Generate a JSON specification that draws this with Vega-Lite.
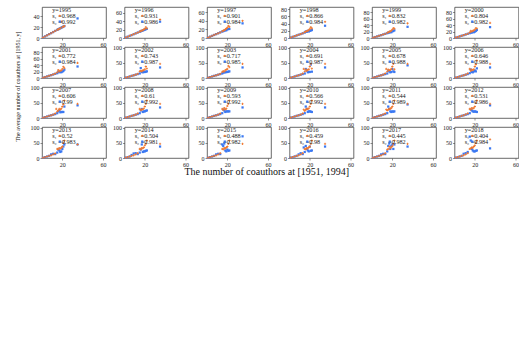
{
"$schema":"https://vega.github.io/schema/vega-lite/v6.json",
"padding":{"left":14,"top":5,"right":2,"bottom":2},
"background":"white",
"datasets":{"d":[
{"p":1995,"k":1,"t":"y=1995"},{"p":1995,"k":2,"s":1,"t":"s₁   =0.968"},{"p":1995,"k":3,"s":2,"t":"s₂   =0.992"},
{"p":1996,"k":1,"t":"y=1996"},{"p":1996,"k":2,"s":1,"t":"s₁   =0.931"},{"p":1996,"k":3,"s":2,"t":"s₂   =0.986"},
{"p":1997,"k":1,"t":"y=1997"},{"p":1997,"k":2,"s":1,"t":"s₁   =0.901"},{"p":1997,"k":3,"s":2,"t":"s₂   =0.984"},
{"p":1998,"k":1,"t":"y=1998"},{"p":1998,"k":2,"s":1,"t":"s₁   =0.866"},{"p":1998,"k":3,"s":2,"t":"s₂   =0.984"},
{"p":1999,"k":1,"t":"y=1999"},{"p":1999,"k":2,"s":1,"t":"s₁   =0.832"},{"p":1999,"k":3,"s":2,"t":"s₂   =0.982"},
{"p":2000,"k":1,"t":"y=2000"},{"p":2000,"k":2,"s":1,"t":"s₁   =0.804"},{"p":2000,"k":3,"s":2,"t":"s₂   =0.982"},
{"p":2001,"k":1,"t":"y=2001"},{"p":2001,"k":2,"s":1,"t":"s₁   =0.772"},{"p":2001,"k":3,"s":2,"t":"s₂   =0.984"},
{"p":2002,"k":1,"t":"y=2002"},{"p":2002,"k":2,"s":1,"t":"s₁   =0.743"},{"p":2002,"k":3,"s":2,"t":"s₂   =0.987"},
{"p":2003,"k":1,"t":"y=2003"},{"p":2003,"k":2,"s":1,"t":"s₁   =0.717"},{"p":2003,"k":3,"s":2,"t":"s₂   =0.985"},
{"p":2004,"k":1,"t":"y=2004"},{"p":2004,"k":2,"s":1,"t":"s₁   =0.691"},{"p":2004,"k":3,"s":2,"t":"s₂   =0.987"},
{"p":2005,"k":1,"t":"y=2005"},{"p":2005,"k":2,"s":1,"t":"s₁   =0.678"},{"p":2005,"k":3,"s":2,"t":"s₂   =0.988"},
{"p":2006,"k":1,"t":"y=2006"},{"p":2006,"k":2,"s":1,"t":"s₁   =0.646"},{"p":2006,"k":3,"s":2,"t":"s₂   =0.988"},
{"p":2007,"k":1,"t":"y=2007"},{"p":2007,"k":2,"s":1,"t":"s₁   =0.606"},{"p":2007,"k":3,"s":2,"t":"s₂   =0.99"},
{"p":2008,"k":1,"t":"y=2008"},{"p":2008,"k":2,"s":1,"t":"s₁   =0.61"},{"p":2008,"k":3,"s":2,"t":"s₂   =0.992"},
{"p":2009,"k":1,"t":"y=2009"},{"p":2009,"k":2,"s":1,"t":"s₁   =0.593"},{"p":2009,"k":3,"s":2,"t":"s₂   =0.992"},
{"p":2010,"k":1,"t":"y=2010"},{"p":2010,"k":2,"s":1,"t":"s₁   =0.566"},{"p":2010,"k":3,"s":2,"t":"s₂   =0.992"},
{"p":2011,"k":1,"t":"y=2011"},{"p":2011,"k":2,"s":1,"t":"s₁   =0.544"},{"p":2011,"k":3,"s":2,"t":"s₂   =0.989"},
{"p":2012,"k":1,"t":"y=2012"},{"p":2012,"k":2,"s":1,"t":"s₁   =0.531"},{"p":2012,"k":3,"s":2,"t":"s₂   =0.986"},
{"p":2013,"k":1,"t":"y=2013"},{"p":2013,"k":2,"s":1,"t":"s₁   =0.52"},{"p":2013,"k":3,"s":2,"t":"s₂   =0.983"},
{"p":2014,"k":1,"t":"y=2014"},{"p":2014,"k":2,"s":1,"t":"s₁   =0.504"},{"p":2014,"k":3,"s":2,"t":"s₂   =0.981"},
{"p":2015,"k":1,"t":"y=2015"},{"p":2015,"k":2,"s":1,"t":"s₁   =0.488"},{"p":2015,"k":3,"s":2,"t":"s₂   =0.982"},
{"p":2016,"k":1,"t":"y=2016"},{"p":2016,"k":2,"s":1,"t":"s₁   =0.459"},{"p":2016,"k":3,"s":2,"t":"s₂   =0.98"},
{"p":2017,"k":1,"t":"y=2017"},{"p":2017,"k":2,"s":1,"t":"s₁   =0.445"},{"p":2017,"k":3,"s":2,"t":"s₂   =0.982"},
{"p":2018,"k":1,"t":"y=2018"},{"p":2018,"k":2,"s":1,"t":"s₁   =0.404"},{"p":2018,"k":3,"s":2,"t":"s₂   =0.984"},

{"p":1995,"s":1,"x":1,"y":1},{"p":1995,"s":1,"x":3,"y":3},{"p":1995,"s":1,"x":5,"y":5},{"p":1995,"s":1,"x":7,"y":7},{"p":1995,"s":1,"x":9,"y":9},{"p":1995,"s":1,"x":11,"y":11},{"p":1995,"s":1,"x":13,"y":13},{"p":1995,"s":1,"x":15,"y":15},{"p":1995,"s":1,"x":16,"y":16},{"p":1995,"s":1,"x":17,"y":17},{"p":1995,"s":1,"x":18,"y":18},{"p":1995,"s":1,"x":19,"y":30},{"p":1995,"s":1,"x":20,"y":20},{"p":1995,"s":1,"x":21,"y":21},{"p":1995,"s":1,"x":22,"y":22},
{"p":1995,"s":2,"x":1,"y":1},{"p":1995,"s":2,"x":3,"y":3},{"p":1995,"s":2,"x":5,"y":5},{"p":1995,"s":2,"x":7,"y":7},{"p":1995,"s":2,"x":9,"y":9},{"p":1995,"s":2,"x":11,"y":11},{"p":1995,"s":2,"x":13,"y":13},{"p":1995,"s":2,"x":15,"y":15},{"p":1995,"s":2,"x":16,"y":16},{"p":1995,"s":2,"x":17,"y":17},{"p":1995,"s":2,"x":18,"y":18},{"p":1995,"s":2,"x":19,"y":19},{"p":1995,"s":2,"x":20,"y":20},{"p":1995,"s":2,"x":21,"y":21},{"p":1995,"s":2,"x":22,"y":22},{"p":1995,"s":2,"x":35,"y":36},

{"p":1996,"s":1,"x":1,"y":1},{"p":1996,"s":1,"x":3,"y":3},{"p":1996,"s":1,"x":5,"y":5},{"p":1996,"s":1,"x":7,"y":7},{"p":1996,"s":1,"x":9,"y":9},{"p":1996,"s":1,"x":11,"y":11},{"p":1996,"s":1,"x":13,"y":13},{"p":1996,"s":1,"x":15,"y":15},{"p":1996,"s":1,"x":16,"y":17},{"p":1996,"s":1,"x":17,"y":17},{"p":1996,"s":1,"x":18,"y":19},{"p":1996,"s":1,"x":19,"y":20},{"p":1996,"s":1,"x":20,"y":22},{"p":1996,"s":1,"x":21,"y":26},{"p":1996,"s":1,"x":22,"y":23},{"p":1996,"s":1,"x":35,"y":44},
{"p":1996,"s":2,"x":1,"y":1},{"p":1996,"s":2,"x":3,"y":3},{"p":1996,"s":2,"x":5,"y":5},{"p":1996,"s":2,"x":7,"y":7},{"p":1996,"s":2,"x":9,"y":9},{"p":1996,"s":2,"x":11,"y":11},{"p":1996,"s":2,"x":13,"y":13},{"p":1996,"s":2,"x":15,"y":15},{"p":1996,"s":2,"x":16,"y":16},{"p":1996,"s":2,"x":17,"y":17},{"p":1996,"s":2,"x":18,"y":18},{"p":1996,"s":2,"x":19,"y":19},{"p":1996,"s":2,"x":20,"y":20},{"p":1996,"s":2,"x":21,"y":21},{"p":1996,"s":2,"x":22,"y":22},{"p":1996,"s":2,"x":35,"y":39},

{"p":1997,"s":1,"x":1,"y":1},{"p":1997,"s":1,"x":3,"y":3},{"p":1997,"s":1,"x":5,"y":5},{"p":1997,"s":1,"x":7,"y":7},{"p":1997,"s":1,"x":9,"y":9},{"p":1997,"s":1,"x":11,"y":11},{"p":1997,"s":1,"x":13,"y":13},{"p":1997,"s":1,"x":15,"y":16},{"p":1997,"s":1,"x":16,"y":17},{"p":1997,"s":1,"x":17,"y":18},{"p":1997,"s":1,"x":18,"y":20},{"p":1997,"s":1,"x":19,"y":22},{"p":1997,"s":1,"x":20,"y":24},{"p":1997,"s":1,"x":21,"y":28},{"p":1997,"s":1,"x":22,"y":26},{"p":1997,"s":1,"x":35,"y":40},
{"p":1997,"s":2,"x":1,"y":1},{"p":1997,"s":2,"x":3,"y":3},{"p":1997,"s":2,"x":5,"y":5},{"p":1997,"s":2,"x":7,"y":7},{"p":1997,"s":2,"x":9,"y":9},{"p":1997,"s":2,"x":11,"y":11},{"p":1997,"s":2,"x":13,"y":13},{"p":1997,"s":2,"x":15,"y":15},{"p":1997,"s":2,"x":16,"y":16},{"p":1997,"s":2,"x":17,"y":17},{"p":1997,"s":2,"x":18,"y":18},{"p":1997,"s":2,"x":19,"y":18},{"p":1997,"s":2,"x":20,"y":20},{"p":1997,"s":2,"x":21,"y":21},{"p":1997,"s":2,"x":22,"y":21},{"p":1997,"s":2,"x":35,"y":34},

{"p":1998,"s":1,"x":1,"y":1},{"p":1998,"s":1,"x":3,"y":3},{"p":1998,"s":1,"x":5,"y":5},{"p":1998,"s":1,"x":7,"y":7},{"p":1998,"s":1,"x":9,"y":9},{"p":1998,"s":1,"x":11,"y":11},{"p":1998,"s":1,"x":13,"y":13},{"p":1998,"s":1,"x":15,"y":16},{"p":1998,"s":1,"x":16,"y":18},{"p":1998,"s":1,"x":17,"y":19},{"p":1998,"s":1,"x":18,"y":20},{"p":1998,"s":1,"x":19,"y":22},{"p":1998,"s":1,"x":20,"y":25},{"p":1998,"s":1,"x":21,"y":30},{"p":1998,"s":1,"x":22,"y":27},{"p":1998,"s":1,"x":35,"y":45},
{"p":1998,"s":2,"x":1,"y":1},{"p":1998,"s":2,"x":3,"y":3},{"p":1998,"s":2,"x":5,"y":5},{"p":1998,"s":2,"x":7,"y":7},{"p":1998,"s":2,"x":9,"y":9},{"p":1998,"s":2,"x":11,"y":11},{"p":1998,"s":2,"x":13,"y":13},{"p":1998,"s":2,"x":15,"y":15},{"p":1998,"s":2,"x":16,"y":18},{"p":1998,"s":2,"x":17,"y":17},{"p":1998,"s":2,"x":18,"y":20},{"p":1998,"s":2,"x":19,"y":18},{"p":1998,"s":2,"x":20,"y":20},{"p":1998,"s":2,"x":21,"y":21},{"p":1998,"s":2,"x":22,"y":22},{"p":1998,"s":2,"x":35,"y":34},

{"p":1999,"s":1,"x":1,"y":1},{"p":1999,"s":1,"x":3,"y":3},{"p":1999,"s":1,"x":5,"y":5},{"p":1999,"s":1,"x":7,"y":7},{"p":1999,"s":1,"x":9,"y":9},{"p":1999,"s":1,"x":11,"y":11},{"p":1999,"s":1,"x":13,"y":13},{"p":1999,"s":1,"x":15,"y":16},{"p":1999,"s":1,"x":16,"y":18},{"p":1999,"s":1,"x":17,"y":20},{"p":1999,"s":1,"x":18,"y":21},{"p":1999,"s":1,"x":19,"y":23},{"p":1999,"s":1,"x":20,"y":27},{"p":1999,"s":1,"x":21,"y":31},{"p":1999,"s":1,"x":22,"y":29},{"p":1999,"s":1,"x":35,"y":46},
{"p":1999,"s":2,"x":1,"y":1},{"p":1999,"s":2,"x":3,"y":3},{"p":1999,"s":2,"x":5,"y":5},{"p":1999,"s":2,"x":7,"y":7},{"p":1999,"s":2,"x":9,"y":9},{"p":1999,"s":2,"x":11,"y":11},{"p":1999,"s":2,"x":13,"y":13},{"p":1999,"s":2,"x":15,"y":15},{"p":1999,"s":2,"x":16,"y":17},{"p":1999,"s":2,"x":17,"y":17},{"p":1999,"s":2,"x":18,"y":19},{"p":1999,"s":2,"x":19,"y":18},{"p":1999,"s":2,"x":20,"y":21},{"p":1999,"s":2,"x":21,"y":22},{"p":1999,"s":2,"x":22,"y":24},{"p":1999,"s":2,"x":35,"y":35},

{"p":2000,"s":1,"x":1,"y":1},{"p":2000,"s":1,"x":3,"y":3},{"p":2000,"s":1,"x":5,"y":5},{"p":2000,"s":1,"x":7,"y":7},{"p":2000,"s":1,"x":9,"y":9},{"p":2000,"s":1,"x":11,"y":11},{"p":2000,"s":1,"x":13,"y":13},{"p":2000,"s":1,"x":15,"y":17},{"p":2000,"s":1,"x":16,"y":22},{"p":2000,"s":1,"x":17,"y":20},{"p":2000,"s":1,"x":18,"y":22},{"p":2000,"s":1,"x":19,"y":24},{"p":2000,"s":1,"x":20,"y":26},{"p":2000,"s":1,"x":21,"y":31},{"p":2000,"s":1,"x":22,"y":30},{"p":2000,"s":1,"x":35,"y":47},
{"p":2000,"s":2,"x":1,"y":1},{"p":2000,"s":2,"x":3,"y":3},{"p":2000,"s":2,"x":5,"y":5},{"p":2000,"s":2,"x":7,"y":7},{"p":2000,"s":2,"x":9,"y":9},{"p":2000,"s":2,"x":11,"y":11},{"p":2000,"s":2,"x":13,"y":13},{"p":2000,"s":2,"x":15,"y":15},{"p":2000,"s":2,"x":16,"y":17},{"p":2000,"s":2,"x":17,"y":17},{"p":2000,"s":2,"x":18,"y":19},{"p":2000,"s":2,"x":19,"y":18},{"p":2000,"s":2,"x":20,"y":20},{"p":2000,"s":2,"x":21,"y":22},{"p":2000,"s":2,"x":22,"y":25},{"p":2000,"s":2,"x":35,"y":34},

{"p":2001,"s":1,"x":1,"y":1},{"p":2001,"s":1,"x":3,"y":3},{"p":2001,"s":1,"x":5,"y":5},{"p":2001,"s":1,"x":7,"y":7},{"p":2001,"s":1,"x":9,"y":9},{"p":2001,"s":1,"x":11,"y":11},{"p":2001,"s":1,"x":13,"y":14},{"p":2001,"s":1,"x":15,"y":18},{"p":2001,"s":1,"x":16,"y":25},{"p":2001,"s":1,"x":17,"y":21},{"p":2001,"s":1,"x":18,"y":23},{"p":2001,"s":1,"x":19,"y":24},{"p":2001,"s":1,"x":20,"y":28},{"p":2001,"s":1,"x":21,"y":35},{"p":2001,"s":1,"x":22,"y":31},{"p":2001,"s":1,"x":35,"y":47},
{"p":2001,"s":2,"x":1,"y":1},{"p":2001,"s":2,"x":3,"y":3},{"p":2001,"s":2,"x":5,"y":5},{"p":2001,"s":2,"x":7,"y":7},{"p":2001,"s":2,"x":9,"y":9},{"p":2001,"s":2,"x":11,"y":11},{"p":2001,"s":2,"x":13,"y":13},{"p":2001,"s":2,"x":15,"y":15},{"p":2001,"s":2,"x":16,"y":20},{"p":2001,"s":2,"x":17,"y":18},{"p":2001,"s":2,"x":18,"y":19},{"p":2001,"s":2,"x":19,"y":18},{"p":2001,"s":2,"x":20,"y":20},{"p":2001,"s":2,"x":21,"y":22},{"p":2001,"s":2,"x":22,"y":26},{"p":2001,"s":2,"x":35,"y":36},

{"p":2002,"s":1,"x":1,"y":1},{"p":2002,"s":1,"x":3,"y":3},{"p":2002,"s":1,"x":5,"y":5},{"p":2002,"s":1,"x":7,"y":7},{"p":2002,"s":1,"x":9,"y":9},{"p":2002,"s":1,"x":11,"y":11},{"p":2002,"s":1,"x":13,"y":14},{"p":2002,"s":1,"x":15,"y":22},{"p":2002,"s":1,"x":16,"y":24},{"p":2002,"s":1,"x":17,"y":22},{"p":2002,"s":1,"x":18,"y":25},{"p":2002,"s":1,"x":19,"y":26},{"p":2002,"s":1,"x":20,"y":29},{"p":2002,"s":1,"x":21,"y":38},{"p":2002,"s":1,"x":22,"y":31},{"p":2002,"s":1,"x":35,"y":47},
{"p":2002,"s":2,"x":1,"y":1},{"p":2002,"s":2,"x":3,"y":3},{"p":2002,"s":2,"x":5,"y":5},{"p":2002,"s":2,"x":7,"y":7},{"p":2002,"s":2,"x":9,"y":9},{"p":2002,"s":2,"x":11,"y":11},{"p":2002,"s":2,"x":13,"y":13},{"p":2002,"s":2,"x":15,"y":15},{"p":2002,"s":2,"x":16,"y":33},{"p":2002,"s":2,"x":17,"y":20},{"p":2002,"s":2,"x":18,"y":19},{"p":2002,"s":2,"x":19,"y":20},{"p":2002,"s":2,"x":20,"y":20},{"p":2002,"s":2,"x":21,"y":21},{"p":2002,"s":2,"x":22,"y":22},{"p":2002,"s":2,"x":35,"y":35},

{"p":2003,"s":1,"x":1,"y":1},{"p":2003,"s":1,"x":3,"y":3},{"p":2003,"s":1,"x":5,"y":5},{"p":2003,"s":1,"x":7,"y":7},{"p":2003,"s":1,"x":9,"y":9},{"p":2003,"s":1,"x":11,"y":11},{"p":2003,"s":1,"x":13,"y":14},{"p":2003,"s":1,"x":15,"y":20},{"p":2003,"s":1,"x":16,"y":23},{"p":2003,"s":1,"x":17,"y":22},{"p":2003,"s":1,"x":18,"y":26},{"p":2003,"s":1,"x":19,"y":28},{"p":2003,"s":1,"x":20,"y":30},{"p":2003,"s":1,"x":21,"y":40},{"p":2003,"s":1,"x":22,"y":36},{"p":2003,"s":1,"x":35,"y":47},
{"p":2003,"s":2,"x":1,"y":1},{"p":2003,"s":2,"x":3,"y":3},{"p":2003,"s":2,"x":5,"y":5},{"p":2003,"s":2,"x":7,"y":7},{"p":2003,"s":2,"x":9,"y":9},{"p":2003,"s":2,"x":11,"y":11},{"p":2003,"s":2,"x":13,"y":13},{"p":2003,"s":2,"x":15,"y":15},{"p":2003,"s":2,"x":16,"y":18},{"p":2003,"s":2,"x":17,"y":19},{"p":2003,"s":2,"x":18,"y":19},{"p":2003,"s":2,"x":19,"y":20},{"p":2003,"s":2,"x":20,"y":20},{"p":2003,"s":2,"x":21,"y":21},{"p":2003,"s":2,"x":22,"y":22},{"p":2003,"s":2,"x":35,"y":35},

{"p":2004,"s":1,"x":1,"y":1},{"p":2004,"s":1,"x":3,"y":3},{"p":2004,"s":1,"x":5,"y":5},{"p":2004,"s":1,"x":7,"y":7},{"p":2004,"s":1,"x":9,"y":9},{"p":2004,"s":1,"x":11,"y":11},{"p":2004,"s":1,"x":13,"y":15},{"p":2004,"s":1,"x":14,"y":30},{"p":2004,"s":1,"x":15,"y":22},{"p":2004,"s":1,"x":16,"y":28},{"p":2004,"s":1,"x":17,"y":24},{"p":2004,"s":1,"x":18,"y":27},{"p":2004,"s":1,"x":19,"y":29},{"p":2004,"s":1,"x":20,"y":38},{"p":2004,"s":1,"x":21,"y":47},{"p":2004,"s":1,"x":22,"y":31},{"p":2004,"s":1,"x":35,"y":47},
{"p":2004,"s":2,"x":1,"y":1},{"p":2004,"s":2,"x":3,"y":3},{"p":2004,"s":2,"x":5,"y":5},{"p":2004,"s":2,"x":7,"y":7},{"p":2004,"s":2,"x":9,"y":9},{"p":2004,"s":2,"x":11,"y":11},{"p":2004,"s":2,"x":13,"y":13},{"p":2004,"s":2,"x":15,"y":15},{"p":2004,"s":2,"x":16,"y":30},{"p":2004,"s":2,"x":17,"y":25},{"p":2004,"s":2,"x":18,"y":19},{"p":2004,"s":2,"x":19,"y":20},{"p":2004,"s":2,"x":20,"y":20},{"p":2004,"s":2,"x":21,"y":45},{"p":2004,"s":2,"x":22,"y":21},{"p":2004,"s":2,"x":35,"y":35},

{"p":2005,"s":1,"x":1,"y":1},{"p":2005,"s":1,"x":3,"y":3},{"p":2005,"s":1,"x":5,"y":5},{"p":2005,"s":1,"x":7,"y":7},{"p":2005,"s":1,"x":9,"y":9},{"p":2005,"s":1,"x":11,"y":11},{"p":2005,"s":1,"x":13,"y":15},{"p":2005,"s":1,"x":14,"y":30},{"p":2005,"s":1,"x":15,"y":22},{"p":2005,"s":1,"x":16,"y":28},{"p":2005,"s":1,"x":17,"y":25},{"p":2005,"s":1,"x":18,"y":27},{"p":2005,"s":1,"x":19,"y":30},{"p":2005,"s":1,"x":20,"y":38},{"p":2005,"s":1,"x":21,"y":47},{"p":2005,"s":1,"x":22,"y":29},{"p":2005,"s":1,"x":35,"y":47},
{"p":2005,"s":2,"x":1,"y":1},{"p":2005,"s":2,"x":3,"y":3},{"p":2005,"s":2,"x":5,"y":5},{"p":2005,"s":2,"x":7,"y":7},{"p":2005,"s":2,"x":9,"y":9},{"p":2005,"s":2,"x":11,"y":11},{"p":2005,"s":2,"x":13,"y":13},{"p":2005,"s":2,"x":15,"y":15},{"p":2005,"s":2,"x":16,"y":25},{"p":2005,"s":2,"x":17,"y":22},{"p":2005,"s":2,"x":18,"y":19},{"p":2005,"s":2,"x":19,"y":20},{"p":2005,"s":2,"x":20,"y":30},{"p":2005,"s":2,"x":21,"y":22},{"p":2005,"s":2,"x":22,"y":20},{"p":2005,"s":2,"x":35,"y":42},

{"p":2006,"s":1,"x":1,"y":1},{"p":2006,"s":1,"x":3,"y":3},{"p":2006,"s":1,"x":5,"y":5},{"p":2006,"s":1,"x":7,"y":7},{"p":2006,"s":1,"x":9,"y":9},{"p":2006,"s":1,"x":11,"y":11},{"p":2006,"s":1,"x":13,"y":15},{"p":2006,"s":1,"x":15,"y":30},{"p":2006,"s":1,"x":16,"y":24},{"p":2006,"s":1,"x":17,"y":28},{"p":2006,"s":1,"x":18,"y":26},{"p":2006,"s":1,"x":19,"y":29},{"p":2006,"s":1,"x":20,"y":38},{"p":2006,"s":1,"x":21,"y":45},{"p":2006,"s":1,"x":22,"y":58},{"p":2006,"s":1,"x":35,"y":47},
{"p":2006,"s":2,"x":1,"y":1},{"p":2006,"s":2,"x":3,"y":3},{"p":2006,"s":2,"x":5,"y":5},{"p":2006,"s":2,"x":7,"y":7},{"p":2006,"s":2,"x":9,"y":9},{"p":2006,"s":2,"x":11,"y":11},{"p":2006,"s":2,"x":13,"y":13},{"p":2006,"s":2,"x":15,"y":16},{"p":2006,"s":2,"x":16,"y":28},{"p":2006,"s":2,"x":17,"y":20},{"p":2006,"s":2,"x":18,"y":19},{"p":2006,"s":2,"x":19,"y":22},{"p":2006,"s":2,"x":20,"y":25},{"p":2006,"s":2,"x":21,"y":22},{"p":2006,"s":2,"x":22,"y":32},{"p":2006,"s":2,"x":35,"y":35},

{"p":2007,"s":1,"x":1,"y":1},{"p":2007,"s":1,"x":3,"y":3},{"p":2007,"s":1,"x":5,"y":5},{"p":2007,"s":1,"x":7,"y":7},{"p":2007,"s":1,"x":9,"y":9},{"p":2007,"s":1,"x":11,"y":11},{"p":2007,"s":1,"x":13,"y":15},{"p":2007,"s":1,"x":14,"y":30},{"p":2007,"s":1,"x":15,"y":22},{"p":2007,"s":1,"x":16,"y":25},{"p":2007,"s":1,"x":17,"y":30},{"p":2007,"s":1,"x":18,"y":28},{"p":2007,"s":1,"x":19,"y":31},{"p":2007,"s":1,"x":20,"y":38},{"p":2007,"s":1,"x":21,"y":45},{"p":2007,"s":1,"x":22,"y":58},{"p":2007,"s":1,"x":35,"y":47},
{"p":2007,"s":2,"x":1,"y":1},{"p":2007,"s":2,"x":3,"y":3},{"p":2007,"s":2,"x":5,"y":5},{"p":2007,"s":2,"x":7,"y":7},{"p":2007,"s":2,"x":9,"y":9},{"p":2007,"s":2,"x":11,"y":11},{"p":2007,"s":2,"x":13,"y":13},{"p":2007,"s":2,"x":15,"y":16},{"p":2007,"s":2,"x":16,"y":22},{"p":2007,"s":2,"x":17,"y":25},{"p":2007,"s":2,"x":18,"y":19},{"p":2007,"s":2,"x":19,"y":20},{"p":2007,"s":2,"x":20,"y":20},{"p":2007,"s":2,"x":21,"y":20},{"p":2007,"s":2,"x":22,"y":38},{"p":2007,"s":2,"x":35,"y":42},

{"p":2008,"s":1,"x":1,"y":1},{"p":2008,"s":1,"x":3,"y":3},{"p":2008,"s":1,"x":5,"y":5},{"p":2008,"s":1,"x":7,"y":7},{"p":2008,"s":1,"x":9,"y":9},{"p":2008,"s":1,"x":11,"y":11},{"p":2008,"s":1,"x":13,"y":15},{"p":2008,"s":1,"x":15,"y":30},{"p":2008,"s":1,"x":16,"y":26},{"p":2008,"s":1,"x":17,"y":28},{"p":2008,"s":1,"x":18,"y":29},{"p":2008,"s":1,"x":19,"y":31},{"p":2008,"s":1,"x":20,"y":38},{"p":2008,"s":1,"x":21,"y":47},{"p":2008,"s":1,"x":22,"y":58},{"p":2008,"s":1,"x":35,"y":47},
{"p":2008,"s":2,"x":1,"y":1},{"p":2008,"s":2,"x":3,"y":3},{"p":2008,"s":2,"x":5,"y":5},{"p":2008,"s":2,"x":7,"y":7},{"p":2008,"s":2,"x":9,"y":9},{"p":2008,"s":2,"x":11,"y":11},{"p":2008,"s":2,"x":13,"y":13},{"p":2008,"s":2,"x":15,"y":16},{"p":2008,"s":2,"x":16,"y":25},{"p":2008,"s":2,"x":17,"y":30},{"p":2008,"s":2,"x":18,"y":20},{"p":2008,"s":2,"x":19,"y":22},{"p":2008,"s":2,"x":20,"y":22},{"p":2008,"s":2,"x":21,"y":24},{"p":2008,"s":2,"x":22,"y":25},{"p":2008,"s":2,"x":35,"y":35},

{"p":2009,"s":1,"x":1,"y":1},{"p":2009,"s":1,"x":3,"y":3},{"p":2009,"s":1,"x":5,"y":5},{"p":2009,"s":1,"x":7,"y":7},{"p":2009,"s":1,"x":9,"y":9},{"p":2009,"s":1,"x":11,"y":11},{"p":2009,"s":1,"x":13,"y":15},{"p":2009,"s":1,"x":15,"y":30},{"p":2009,"s":1,"x":16,"y":27},{"p":2009,"s":1,"x":17,"y":33},{"p":2009,"s":1,"x":18,"y":29},{"p":2009,"s":1,"x":19,"y":31},{"p":2009,"s":1,"x":20,"y":40},{"p":2009,"s":1,"x":21,"y":47},{"p":2009,"s":1,"x":22,"y":58},{"p":2009,"s":1,"x":35,"y":47},
{"p":2009,"s":2,"x":1,"y":1},{"p":2009,"s":2,"x":3,"y":3},{"p":2009,"s":2,"x":5,"y":5},{"p":2009,"s":2,"x":7,"y":7},{"p":2009,"s":2,"x":9,"y":9},{"p":2009,"s":2,"x":11,"y":11},{"p":2009,"s":2,"x":13,"y":13},{"p":2009,"s":2,"x":15,"y":16},{"p":2009,"s":2,"x":16,"y":28},{"p":2009,"s":2,"x":17,"y":25},{"p":2009,"s":2,"x":18,"y":20},{"p":2009,"s":2,"x":19,"y":22},{"p":2009,"s":2,"x":20,"y":22},{"p":2009,"s":2,"x":21,"y":22},{"p":2009,"s":2,"x":22,"y":22},{"p":2009,"s":2,"x":35,"y":35},

{"p":2010,"s":1,"x":1,"y":1},{"p":2010,"s":1,"x":3,"y":3},{"p":2010,"s":1,"x":5,"y":5},{"p":2010,"s":1,"x":7,"y":7},{"p":2010,"s":1,"x":9,"y":9},{"p":2010,"s":1,"x":11,"y":11},{"p":2010,"s":1,"x":13,"y":15},{"p":2010,"s":1,"x":14,"y":28},{"p":2010,"s":1,"x":15,"y":24},{"p":2010,"s":1,"x":16,"y":27},{"p":2010,"s":1,"x":17,"y":30},{"p":2010,"s":1,"x":18,"y":30},{"p":2010,"s":1,"x":19,"y":32},{"p":2010,"s":1,"x":20,"y":38},{"p":2010,"s":1,"x":21,"y":47},{"p":2010,"s":1,"x":22,"y":58},{"p":2010,"s":1,"x":35,"y":47},
{"p":2010,"s":2,"x":1,"y":1},{"p":2010,"s":2,"x":3,"y":3},{"p":2010,"s":2,"x":5,"y":5},{"p":2010,"s":2,"x":7,"y":7},{"p":2010,"s":2,"x":9,"y":9},{"p":2010,"s":2,"x":11,"y":11},{"p":2010,"s":2,"x":13,"y":13},{"p":2010,"s":2,"x":15,"y":16},{"p":2010,"s":2,"x":16,"y":38},{"p":2010,"s":2,"x":17,"y":30},{"p":2010,"s":2,"x":18,"y":20},{"p":2010,"s":2,"x":19,"y":22},{"p":2010,"s":2,"x":20,"y":22},{"p":2010,"s":2,"x":21,"y":21},{"p":2010,"s":2,"x":22,"y":20},{"p":2010,"s":2,"x":35,"y":35},

{"p":2011,"s":1,"x":1,"y":1},{"p":2011,"s":1,"x":3,"y":3},{"p":2011,"s":1,"x":5,"y":5},{"p":2011,"s":1,"x":7,"y":7},{"p":2011,"s":1,"x":9,"y":9},{"p":2011,"s":1,"x":11,"y":12},{"p":2011,"s":1,"x":13,"y":15},{"p":2011,"s":1,"x":14,"y":28},{"p":2011,"s":1,"x":15,"y":25},{"p":2011,"s":1,"x":16,"y":28},{"p":2011,"s":1,"x":17,"y":30},{"p":2011,"s":1,"x":18,"y":31},{"p":2011,"s":1,"x":19,"y":33},{"p":2011,"s":1,"x":20,"y":38},{"p":2011,"s":1,"x":21,"y":47},{"p":2011,"s":1,"x":22,"y":58},{"p":2011,"s":1,"x":35,"y":47},
{"p":2011,"s":2,"x":1,"y":1},{"p":2011,"s":2,"x":3,"y":3},{"p":2011,"s":2,"x":5,"y":5},{"p":2011,"s":2,"x":7,"y":7},{"p":2011,"s":2,"x":9,"y":9},{"p":2011,"s":2,"x":11,"y":11},{"p":2011,"s":2,"x":13,"y":13},{"p":2011,"s":2,"x":15,"y":16},{"p":2011,"s":2,"x":16,"y":38},{"p":2011,"s":2,"x":17,"y":30},{"p":2011,"s":2,"x":18,"y":22},{"p":2011,"s":2,"x":19,"y":20},{"p":2011,"s":2,"x":20,"y":22},{"p":2011,"s":2,"x":21,"y":21},{"p":2011,"s":2,"x":22,"y":22},{"p":2011,"s":2,"x":35,"y":45},

{"p":2012,"s":1,"x":1,"y":1},{"p":2012,"s":1,"x":3,"y":3},{"p":2012,"s":1,"x":5,"y":5},{"p":2012,"s":1,"x":7,"y":7},{"p":2012,"s":1,"x":9,"y":9},{"p":2012,"s":1,"x":11,"y":12},{"p":2012,"s":1,"x":13,"y":15},{"p":2012,"s":1,"x":15,"y":30},{"p":2012,"s":1,"x":16,"y":28},{"p":2012,"s":1,"x":17,"y":33},{"p":2012,"s":1,"x":18,"y":31},{"p":2012,"s":1,"x":19,"y":33},{"p":2012,"s":1,"x":20,"y":38},{"p":2012,"s":1,"x":21,"y":50},{"p":2012,"s":1,"x":22,"y":58},{"p":2012,"s":1,"x":35,"y":47},
{"p":2012,"s":2,"x":1,"y":1},{"p":2012,"s":2,"x":3,"y":3},{"p":2012,"s":2,"x":5,"y":5},{"p":2012,"s":2,"x":7,"y":7},{"p":2012,"s":2,"x":9,"y":9},{"p":2012,"s":2,"x":11,"y":11},{"p":2012,"s":2,"x":13,"y":13},{"p":2012,"s":2,"x":15,"y":16},{"p":2012,"s":2,"x":16,"y":28},{"p":2012,"s":2,"x":17,"y":25},{"p":2012,"s":2,"x":18,"y":22},{"p":2012,"s":2,"x":19,"y":21},{"p":2012,"s":2,"x":20,"y":22},{"p":2012,"s":2,"x":21,"y":21},{"p":2012,"s":2,"x":22,"y":20},{"p":2012,"s":2,"x":35,"y":42},

{"p":2013,"s":1,"x":1,"y":1},{"p":2013,"s":1,"x":3,"y":3},{"p":2013,"s":1,"x":5,"y":5},{"p":2013,"s":1,"x":7,"y":7},{"p":2013,"s":1,"x":9,"y":9},{"p":2013,"s":1,"x":11,"y":12},{"p":2013,"s":1,"x":13,"y":15},{"p":2013,"s":1,"x":15,"y":30},{"p":2013,"s":1,"x":16,"y":29},{"p":2013,"s":1,"x":17,"y":33},{"p":2013,"s":1,"x":18,"y":31},{"p":2013,"s":1,"x":19,"y":34},{"p":2013,"s":1,"x":20,"y":38},{"p":2013,"s":1,"x":21,"y":50},{"p":2013,"s":1,"x":22,"y":58},{"p":2013,"s":1,"x":35,"y":45},
{"p":2013,"s":2,"x":1,"y":1},{"p":2013,"s":2,"x":3,"y":3},{"p":2013,"s":2,"x":5,"y":5},{"p":2013,"s":2,"x":7,"y":7},{"p":2013,"s":2,"x":9,"y":12},{"p":2013,"s":2,"x":11,"y":14},{"p":2013,"s":2,"x":13,"y":13},{"p":2013,"s":2,"x":15,"y":18},{"p":2013,"s":2,"x":16,"y":28},{"p":2013,"s":2,"x":17,"y":25},{"p":2013,"s":2,"x":18,"y":20},{"p":2013,"s":2,"x":19,"y":22},{"p":2013,"s":2,"x":20,"y":30},{"p":2013,"s":2,"x":21,"y":38},{"p":2013,"s":2,"x":22,"y":45},{"p":2013,"s":2,"x":35,"y":45},

{"p":2014,"s":1,"x":1,"y":1},{"p":2014,"s":1,"x":3,"y":3},{"p":2014,"s":1,"x":5,"y":5},{"p":2014,"s":1,"x":7,"y":7},{"p":2014,"s":1,"x":9,"y":9},{"p":2014,"s":1,"x":11,"y":12},{"p":2014,"s":1,"x":13,"y":16},{"p":2014,"s":1,"x":15,"y":30},{"p":2014,"s":1,"x":16,"y":29},{"p":2014,"s":1,"x":17,"y":33},{"p":2014,"s":1,"x":18,"y":32},{"p":2014,"s":1,"x":19,"y":35},{"p":2014,"s":1,"x":20,"y":42},{"p":2014,"s":1,"x":21,"y":47},{"p":2014,"s":1,"x":22,"y":58},{"p":2014,"s":1,"x":35,"y":47},
{"p":2014,"s":2,"x":1,"y":1},{"p":2014,"s":2,"x":3,"y":3},{"p":2014,"s":2,"x":5,"y":5},{"p":2014,"s":2,"x":7,"y":10},{"p":2014,"s":2,"x":9,"y":15},{"p":2014,"s":2,"x":11,"y":16},{"p":2014,"s":2,"x":13,"y":13},{"p":2014,"s":2,"x":15,"y":18},{"p":2014,"s":2,"x":16,"y":28},{"p":2014,"s":2,"x":17,"y":45},{"p":2014,"s":2,"x":18,"y":20},{"p":2014,"s":2,"x":19,"y":22},{"p":2014,"s":2,"x":20,"y":22},{"p":2014,"s":2,"x":21,"y":24},{"p":2014,"s":2,"x":22,"y":25},{"p":2014,"s":2,"x":35,"y":38},

{"p":2015,"s":1,"x":1,"y":1},{"p":2015,"s":1,"x":3,"y":3},{"p":2015,"s":1,"x":5,"y":5},{"p":2015,"s":1,"x":7,"y":7},{"p":2015,"s":1,"x":9,"y":9},{"p":2015,"s":1,"x":11,"y":12},{"p":2015,"s":1,"x":13,"y":16},{"p":2015,"s":1,"x":15,"y":30},{"p":2015,"s":1,"x":16,"y":29},{"p":2015,"s":1,"x":17,"y":33},{"p":2015,"s":1,"x":18,"y":32},{"p":2015,"s":1,"x":19,"y":35},{"p":2015,"s":1,"x":20,"y":38},{"p":2015,"s":1,"x":21,"y":47},{"p":2015,"s":1,"x":22,"y":58},{"p":2015,"s":1,"x":35,"y":47},
{"p":2015,"s":2,"x":1,"y":1},{"p":2015,"s":2,"x":3,"y":3},{"p":2015,"s":2,"x":5,"y":5},{"p":2015,"s":2,"x":7,"y":7},{"p":2015,"s":2,"x":9,"y":12},{"p":2015,"s":2,"x":11,"y":14},{"p":2015,"s":2,"x":13,"y":13},{"p":2015,"s":2,"x":15,"y":45},{"p":2015,"s":2,"x":16,"y":40},{"p":2015,"s":2,"x":17,"y":48},{"p":2015,"s":2,"x":18,"y":25},{"p":2015,"s":2,"x":19,"y":22},{"p":2015,"s":2,"x":20,"y":28},{"p":2015,"s":2,"x":21,"y":24},{"p":2015,"s":2,"x":22,"y":25},{"p":2015,"s":2,"x":35,"y":72},

{"p":2016,"s":1,"x":1,"y":1},{"p":2016,"s":1,"x":3,"y":3},{"p":2016,"s":1,"x":5,"y":5},{"p":2016,"s":1,"x":7,"y":7},{"p":2016,"s":1,"x":9,"y":9},{"p":2016,"s":1,"x":11,"y":12},{"p":2016,"s":1,"x":13,"y":16},{"p":2016,"s":1,"x":15,"y":30},{"p":2016,"s":1,"x":16,"y":29},{"p":2016,"s":1,"x":17,"y":33},{"p":2016,"s":1,"x":18,"y":32},{"p":2016,"s":1,"x":19,"y":35},{"p":2016,"s":1,"x":20,"y":38},{"p":2016,"s":1,"x":21,"y":47},{"p":2016,"s":1,"x":22,"y":58},{"p":2016,"s":1,"x":35,"y":47},
{"p":2016,"s":2,"x":1,"y":1},{"p":2016,"s":2,"x":3,"y":3},{"p":2016,"s":2,"x":5,"y":5},{"p":2016,"s":2,"x":7,"y":7},{"p":2016,"s":2,"x":9,"y":12},{"p":2016,"s":2,"x":11,"y":16},{"p":2016,"s":2,"x":13,"y":13},{"p":2016,"s":2,"x":14,"y":35},{"p":2016,"s":2,"x":15,"y":20},{"p":2016,"s":2,"x":16,"y":40},{"p":2016,"s":2,"x":17,"y":30},{"p":2016,"s":2,"x":18,"y":25},{"p":2016,"s":2,"x":19,"y":22},{"p":2016,"s":2,"x":20,"y":38},{"p":2016,"s":2,"x":21,"y":24},{"p":2016,"s":2,"x":22,"y":25},{"p":2016,"s":2,"x":35,"y":38},

{"p":2017,"s":1,"x":1,"y":1},{"p":2017,"s":1,"x":3,"y":3},{"p":2017,"s":1,"x":5,"y":5},{"p":2017,"s":1,"x":7,"y":7},{"p":2017,"s":1,"x":9,"y":9},{"p":2017,"s":1,"x":11,"y":12},{"p":2017,"s":1,"x":13,"y":16},{"p":2017,"s":1,"x":15,"y":28},{"p":2017,"s":1,"x":16,"y":30},{"p":2017,"s":1,"x":17,"y":38},{"p":2017,"s":1,"x":18,"y":33},{"p":2017,"s":1,"x":19,"y":36},{"p":2017,"s":1,"x":20,"y":40},{"p":2017,"s":1,"x":21,"y":47},{"p":2017,"s":1,"x":22,"y":58},{"p":2017,"s":1,"x":35,"y":47},
{"p":2017,"s":2,"x":1,"y":1},{"p":2017,"s":2,"x":3,"y":3},{"p":2017,"s":2,"x":5,"y":5},{"p":2017,"s":2,"x":7,"y":7},{"p":2017,"s":2,"x":9,"y":12},{"p":2017,"s":2,"x":11,"y":14},{"p":2017,"s":2,"x":13,"y":13},{"p":2017,"s":2,"x":15,"y":22},{"p":2017,"s":2,"x":16,"y":40},{"p":2017,"s":2,"x":17,"y":48},{"p":2017,"s":2,"x":18,"y":30},{"p":2017,"s":2,"x":19,"y":40},{"p":2017,"s":2,"x":20,"y":45},{"p":2017,"s":2,"x":21,"y":30},{"p":2017,"s":2,"x":22,"y":45},{"p":2017,"s":2,"x":35,"y":38},

{"p":2018,"s":1,"x":1,"y":1},{"p":2018,"s":1,"x":3,"y":3},{"p":2018,"s":1,"x":5,"y":5},{"p":2018,"s":1,"x":7,"y":7},{"p":2018,"s":1,"x":9,"y":9},{"p":2018,"s":1,"x":11,"y":12},{"p":2018,"s":1,"x":13,"y":16},{"p":2018,"s":1,"x":15,"y":30},{"p":2018,"s":1,"x":16,"y":32},{"p":2018,"s":1,"x":17,"y":35},{"p":2018,"s":1,"x":18,"y":34},{"p":2018,"s":1,"x":19,"y":38},{"p":2018,"s":1,"x":20,"y":42},{"p":2018,"s":1,"x":21,"y":50},{"p":2018,"s":1,"x":22,"y":58},{"p":2018,"s":1,"x":35,"y":62},
{"p":2018,"s":2,"x":1,"y":1},{"p":2018,"s":2,"x":3,"y":3},{"p":2018,"s":2,"x":5,"y":5},{"p":2018,"s":2,"x":7,"y":7},{"p":2018,"s":2,"x":9,"y":14},{"p":2018,"s":2,"x":11,"y":16},{"p":2018,"s":2,"x":13,"y":20},{"p":2018,"s":2,"x":15,"y":71},{"p":2018,"s":2,"x":16,"y":58},{"p":2018,"s":2,"x":17,"y":30},{"p":2018,"s":2,"x":18,"y":25},{"p":2018,"s":2,"x":19,"y":22},{"p":2018,"s":2,"x":20,"y":22},{"p":2018,"s":2,"x":21,"y":24},{"p":2018,"s":2,"x":22,"y":25},{"p":2018,"s":2,"x":35,"y":32}
]},
"data":{"name":"d"},
"config":{
"font":"Liberation Serif",
"view":{"stroke":"#444","strokeWidth":0.8},
"axis":{"domain":false,"grid":false,"ticks":true,"tickSize":2,"tickColor":"#444","tickWidth":0.6,"labelFont":"Liberation Serif","labelFontSize":6,"labelColor":"#222","labelPadding":1,"labelOverlap":false,"labelBound":false,"labelFlush":false},
"text":{"font":"Liberation Serif","fontSize":6.2,"align":"left","baseline":"middle","color":"#222"},
"point":{"filled":true,"opacity":1,"size":5}
},
"title":{"text":"The number of coauthors at [1951, 1994]","orient":"bottom","anchor":"middle","font":"Liberation Serif","fontSize":10,"fontWeight":"normal","color":"#111","offset":0},
"vconcat":[{
"title":{"text":"The average number of coauthors at [1951, y]","orient":"left","anchor":"middle","font":"Liberation Serif","fontSize":6,"fontWeight":"normal","color":"#111","offset":9},
"columns":6,"spacing":{"row":9,"column":18.5},"bounds":"flush",
"concat":[
{"transform":[{"filter":"datum.p==1995"}],"width":64,"height":31,"resolve":{"scale":{"y":"independent"}},"layer":[
{"transform":[{"filter":"isValid(datum.x)"}],"mark":"point","encoding":{"x":{"field":"x","type":"quantitative","scale":{"domain":[0,63],"nice":false},"axis":{"values":[20,40,60],"title":null,"labelOverlap":false}},"y":{"field":"y","type":"quantitative","scale":{"domain":[0,57],"nice":false},"axis":{"values":[0,20,40],"title":null}},"color":{"field":"s","type":"nominal","scale":{"domain":[1,2],"range":["#f0772e","#3b78f2"]},"legend":null},"shape":{"field":"s","type":"nominal","scale":{"domain":[1,2],"range":["cross","square"]},"legend":null},"order":{"field":"s","sort":"descending"}}},
{"transform":[{"filter":"isValid(datum.t)"}],"mark":"text","encoding":{"x":{"datum":10},"y":{"field":"k","type":"quantitative","scale":{"domain":[0.483,5.828],"reverse":true,"nice":false,"zero":false},"axis":null},"text":{"field":"t"}}},
{"transform":[{"filter":"isValid(datum.t)&&isValid(datum.s)"}],"mark":"point","encoding":{"x":{"datum":17.5},"y":{"field":"k","type":"quantitative","scale":{"domain":[0.483,5.828],"reverse":true,"nice":false,"zero":false},"axis":null},"color":{"field":"s","type":"nominal","legend":null},"shape":{"field":"s","type":"nominal","legend":null}}}]},
{"transform":[{"filter":"datum.p==1996"}],"width":64,"height":31,"resolve":{"scale":{"y":"independent"}},"layer":[
{"transform":[{"filter":"isValid(datum.x)"}],"mark":"point","encoding":{"x":{"field":"x","type":"quantitative","scale":{"domain":[0,63],"nice":false},"axis":{"values":[20,40,60],"title":null,"labelOverlap":false}},"y":{"field":"y","type":"quantitative","scale":{"domain":[0,74],"nice":false},"axis":{"values":[0,20,40,60],"title":null}},"color":{"field":"s","type":"nominal","scale":{"domain":[1,2],"range":["#f0772e","#3b78f2"]},"legend":null},"shape":{"field":"s","type":"nominal","scale":{"domain":[1,2],"range":["cross","square"]},"legend":null},"order":{"field":"s","sort":"descending"}}},
{"transform":[{"filter":"isValid(datum.t)"}],"mark":"text","encoding":{"x":{"datum":10},"y":{"field":"k","type":"quantitative","scale":{"domain":[0.483,5.828],"reverse":true,"nice":false,"zero":false},"axis":null},"text":{"field":"t"}}},
{"transform":[{"filter":"isValid(datum.t)&&isValid(datum.s)"}],"mark":"point","encoding":{"x":{"datum":17.5},"y":{"field":"k","type":"quantitative","scale":{"domain":[0.483,5.828],"reverse":true,"nice":false,"zero":false},"axis":null},"color":{"field":"s","type":"nominal","legend":null},"shape":{"field":"s","type":"nominal","legend":null}}}]},
{"transform":[{"filter":"datum.p==1997"}],"width":64,"height":31,"resolve":{"scale":{"y":"independent"}},"layer":[
{"transform":[{"filter":"isValid(datum.x)"}],"mark":"point","encoding":{"x":{"field":"x","type":"quantitative","scale":{"domain":[0,63],"nice":false},"axis":{"values":[20,40,60],"title":null,"labelOverlap":false}},"y":{"field":"y","type":"quantitative","scale":{"domain":[0,72],"nice":false},"axis":{"values":[0,20,40,60],"title":null}},"color":{"field":"s","type":"nominal","scale":{"domain":[1,2],"range":["#f0772e","#3b78f2"]},"legend":null},"shape":{"field":"s","type":"nominal","scale":{"domain":[1,2],"range":["cross","square"]},"legend":null},"order":{"field":"s","sort":"descending"}}},
{"transform":[{"filter":"isValid(datum.t)"}],"mark":"text","encoding":{"x":{"datum":10},"y":{"field":"k","type":"quantitative","scale":{"domain":[0.483,5.828],"reverse":true,"nice":false,"zero":false},"axis":null},"text":{"field":"t"}}},
{"transform":[{"filter":"isValid(datum.t)&&isValid(datum.s)"}],"mark":"point","encoding":{"x":{"datum":17.5},"y":{"field":"k","type":"quantitative","scale":{"domain":[0.483,5.828],"reverse":true,"nice":false,"zero":false},"axis":null},"color":{"field":"s","type":"nominal","legend":null},"shape":{"field":"s","type":"nominal","legend":null}}}]},
{"transform":[{"filter":"datum.p==1998"}],"width":64,"height":31,"resolve":{"scale":{"y":"independent"}},"layer":[
{"transform":[{"filter":"isValid(datum.x)"}],"mark":"point","encoding":{"x":{"field":"x","type":"quantitative","scale":{"domain":[0,63],"nice":false},"axis":{"values":[20,40,60],"title":null,"labelOverlap":false}},"y":{"field":"y","type":"quantitative","scale":{"domain":[0,86],"nice":false},"axis":{"values":[0,20,40,60,80],"title":null}},"color":{"field":"s","type":"nominal","scale":{"domain":[1,2],"range":["#f0772e","#3b78f2"]},"legend":null},"shape":{"field":"s","type":"nominal","scale":{"domain":[1,2],"range":["cross","square"]},"legend":null},"order":{"field":"s","sort":"descending"}}},
{"transform":[{"filter":"isValid(datum.t)"}],"mark":"text","encoding":{"x":{"datum":10},"y":{"field":"k","type":"quantitative","scale":{"domain":[0.483,5.828],"reverse":true,"nice":false,"zero":false},"axis":null},"text":{"field":"t"}}},
{"transform":[{"filter":"isValid(datum.t)&&isValid(datum.s)"}],"mark":"point","encoding":{"x":{"datum":17.5},"y":{"field":"k","type":"quantitative","scale":{"domain":[0.483,5.828],"reverse":true,"nice":false,"zero":false},"axis":null},"color":{"field":"s","type":"nominal","legend":null},"shape":{"field":"s","type":"nominal","legend":null}}}]},
{"transform":[{"filter":"datum.p==1999"}],"width":64,"height":31,"resolve":{"scale":{"y":"independent"}},"layer":[
{"transform":[{"filter":"isValid(datum.x)"}],"mark":"point","encoding":{"x":{"field":"x","type":"quantitative","scale":{"domain":[0,63],"nice":false},"axis":{"values":[20,40,60],"title":null,"labelOverlap":false}},"y":{"field":"y","type":"quantitative","scale":{"domain":[0,97],"nice":false},"axis":{"values":[0,20,40,60,80],"title":null}},"color":{"field":"s","type":"nominal","scale":{"domain":[1,2],"range":["#f0772e","#3b78f2"]},"legend":null},"shape":{"field":"s","type":"nominal","scale":{"domain":[1,2],"range":["cross","square"]},"legend":null},"order":{"field":"s","sort":"descending"}}},
{"transform":[{"filter":"isValid(datum.t)"}],"mark":"text","encoding":{"x":{"datum":10},"y":{"field":"k","type":"quantitative","scale":{"domain":[0.483,5.828],"reverse":true,"nice":false,"zero":false},"axis":null},"text":{"field":"t"}}},
{"transform":[{"filter":"isValid(datum.t)&&isValid(datum.s)"}],"mark":"point","encoding":{"x":{"datum":17.5},"y":{"field":"k","type":"quantitative","scale":{"domain":[0.483,5.828],"reverse":true,"nice":false,"zero":false},"axis":null},"color":{"field":"s","type":"nominal","legend":null},"shape":{"field":"s","type":"nominal","legend":null}}}]},
{"transform":[{"filter":"datum.p==2000"}],"width":64,"height":31,"resolve":{"scale":{"y":"independent"}},"layer":[
{"transform":[{"filter":"isValid(datum.x)"}],"mark":"point","encoding":{"x":{"field":"x","type":"quantitative","scale":{"domain":[0,63],"nice":false},"axis":{"values":[20,40,60],"title":null,"labelOverlap":false}},"y":{"field":"y","type":"quantitative","scale":{"domain":[0,97],"nice":false},"axis":{"values":[0,20,40,60,80],"title":null}},"color":{"field":"s","type":"nominal","scale":{"domain":[1,2],"range":["#f0772e","#3b78f2"]},"legend":null},"shape":{"field":"s","type":"nominal","scale":{"domain":[1,2],"range":["cross","square"]},"legend":null},"order":{"field":"s","sort":"descending"}}},
{"transform":[{"filter":"isValid(datum.t)"}],"mark":"text","encoding":{"x":{"datum":10},"y":{"field":"k","type":"quantitative","scale":{"domain":[0.483,5.828],"reverse":true,"nice":false,"zero":false},"axis":null},"text":{"field":"t"}}},
{"transform":[{"filter":"isValid(datum.t)&&isValid(datum.s)"}],"mark":"point","encoding":{"x":{"datum":17.5},"y":{"field":"k","type":"quantitative","scale":{"domain":[0.483,5.828],"reverse":true,"nice":false,"zero":false},"axis":null},"color":{"field":"s","type":"nominal","legend":null},"shape":{"field":"s","type":"nominal","legend":null}}}]},
{"transform":[{"filter":"datum.p==2001"}],"width":64,"height":31,"resolve":{"scale":{"y":"independent"}},"layer":[
{"transform":[{"filter":"isValid(datum.x)"}],"mark":"point","encoding":{"x":{"field":"x","type":"quantitative","scale":{"domain":[0,63],"nice":false},"axis":{"values":[20,40,60],"title":null,"labelOverlap":false}},"y":{"field":"y","type":"quantitative","scale":{"domain":[0,97],"nice":false},"axis":{"values":[0,20,40,60,80],"title":null}},"color":{"field":"s","type":"nominal","scale":{"domain":[1,2],"range":["#f0772e","#3b78f2"]},"legend":null},"shape":{"field":"s","type":"nominal","scale":{"domain":[1,2],"range":["cross","square"]},"legend":null},"order":{"field":"s","sort":"descending"}}},
{"transform":[{"filter":"isValid(datum.t)"}],"mark":"text","encoding":{"x":{"datum":10},"y":{"field":"k","type":"quantitative","scale":{"domain":[0.483,5.828],"reverse":true,"nice":false,"zero":false},"axis":null},"text":{"field":"t"}}},
{"transform":[{"filter":"isValid(datum.t)&&isValid(datum.s)"}],"mark":"point","encoding":{"x":{"datum":17.5},"y":{"field":"k","type":"quantitative","scale":{"domain":[0.483,5.828],"reverse":true,"nice":false,"zero":false},"axis":null},"color":{"field":"s","type":"nominal","legend":null},"shape":{"field":"s","type":"nominal","legend":null}}}]},
{"transform":[{"filter":"datum.p==2002"}],"width":64,"height":31,"resolve":{"scale":{"y":"independent"}},"layer":[
{"transform":[{"filter":"isValid(datum.x)"}],"mark":"point","encoding":{"x":{"field":"x","type":"quantitative","scale":{"domain":[0,63],"nice":false},"axis":{"values":[20,40,60],"title":null,"labelOverlap":false}},"y":{"field":"y","type":"quantitative","scale":{"domain":[0,103],"nice":false},"axis":{"values":[0,50,100],"title":null}},"color":{"field":"s","type":"nominal","scale":{"domain":[1,2],"range":["#f0772e","#3b78f2"]},"legend":null},"shape":{"field":"s","type":"nominal","scale":{"domain":[1,2],"range":["cross","square"]},"legend":null},"order":{"field":"s","sort":"descending"}}},
{"transform":[{"filter":"isValid(datum.t)"}],"mark":"text","encoding":{"x":{"datum":10},"y":{"field":"k","type":"quantitative","scale":{"domain":[0.483,5.828],"reverse":true,"nice":false,"zero":false},"axis":null},"text":{"field":"t"}}},
{"transform":[{"filter":"isValid(datum.t)&&isValid(datum.s)"}],"mark":"point","encoding":{"x":{"datum":17.5},"y":{"field":"k","type":"quantitative","scale":{"domain":[0.483,5.828],"reverse":true,"nice":false,"zero":false},"axis":null},"color":{"field":"s","type":"nominal","legend":null},"shape":{"field":"s","type":"nominal","legend":null}}}]},
{"transform":[{"filter":"datum.p==2003"}],"width":64,"height":31,"resolve":{"scale":{"y":"independent"}},"layer":[
{"transform":[{"filter":"isValid(datum.x)"}],"mark":"point","encoding":{"x":{"field":"x","type":"quantitative","scale":{"domain":[0,63],"nice":false},"axis":{"values":[20,40,60],"title":null,"labelOverlap":false}},"y":{"field":"y","type":"quantitative","scale":{"domain":[0,103],"nice":false},"axis":{"values":[0,50,100],"title":null}},"color":{"field":"s","type":"nominal","scale":{"domain":[1,2],"range":["#f0772e","#3b78f2"]},"legend":null},"shape":{"field":"s","type":"nominal","scale":{"domain":[1,2],"range":["cross","square"]},"legend":null},"order":{"field":"s","sort":"descending"}}},
{"transform":[{"filter":"isValid(datum.t)"}],"mark":"text","encoding":{"x":{"datum":10},"y":{"field":"k","type":"quantitative","scale":{"domain":[0.483,5.828],"reverse":true,"nice":false,"zero":false},"axis":null},"text":{"field":"t"}}},
{"transform":[{"filter":"isValid(datum.t)&&isValid(datum.s)"}],"mark":"point","encoding":{"x":{"datum":17.5},"y":{"field":"k","type":"quantitative","scale":{"domain":[0.483,5.828],"reverse":true,"nice":false,"zero":false},"axis":null},"color":{"field":"s","type":"nominal","legend":null},"shape":{"field":"s","type":"nominal","legend":null}}}]},
{"transform":[{"filter":"datum.p==2004"}],"width":64,"height":31,"resolve":{"scale":{"y":"independent"}},"layer":[
{"transform":[{"filter":"isValid(datum.x)"}],"mark":"point","encoding":{"x":{"field":"x","type":"quantitative","scale":{"domain":[0,63],"nice":false},"axis":{"values":[20,40,60],"title":null,"labelOverlap":false}},"y":{"field":"y","type":"quantitative","scale":{"domain":[0,103],"nice":false},"axis":{"values":[0,50,100],"title":null}},"color":{"field":"s","type":"nominal","scale":{"domain":[1,2],"range":["#f0772e","#3b78f2"]},"legend":null},"shape":{"field":"s","type":"nominal","scale":{"domain":[1,2],"range":["cross","square"]},"legend":null},"order":{"field":"s","sort":"descending"}}},
{"transform":[{"filter":"isValid(datum.t)"}],"mark":"text","encoding":{"x":{"datum":10},"y":{"field":"k","type":"quantitative","scale":{"domain":[0.483,5.828],"reverse":true,"nice":false,"zero":false},"axis":null},"text":{"field":"t"}}},
{"transform":[{"filter":"isValid(datum.t)&&isValid(datum.s)"}],"mark":"point","encoding":{"x":{"datum":17.5},"y":{"field":"k","type":"quantitative","scale":{"domain":[0.483,5.828],"reverse":true,"nice":false,"zero":false},"axis":null},"color":{"field":"s","type":"nominal","legend":null},"shape":{"field":"s","type":"nominal","legend":null}}}]},
{"transform":[{"filter":"datum.p==2005"}],"width":64,"height":31,"resolve":{"scale":{"y":"independent"}},"layer":[
{"transform":[{"filter":"isValid(datum.x)"}],"mark":"point","encoding":{"x":{"field":"x","type":"quantitative","scale":{"domain":[0,63],"nice":false},"axis":{"values":[20,40,60],"title":null,"labelOverlap":false}},"y":{"field":"y","type":"quantitative","scale":{"domain":[0,103],"nice":false},"axis":{"values":[0,50,100],"title":null}},"color":{"field":"s","type":"nominal","scale":{"domain":[1,2],"range":["#f0772e","#3b78f2"]},"legend":null},"shape":{"field":"s","type":"nominal","scale":{"domain":[1,2],"range":["cross","square"]},"legend":null},"order":{"field":"s","sort":"descending"}}},
{"transform":[{"filter":"isValid(datum.t)"}],"mark":"text","encoding":{"x":{"datum":10},"y":{"field":"k","type":"quantitative","scale":{"domain":[0.483,5.828],"reverse":true,"nice":false,"zero":false},"axis":null},"text":{"field":"t"}}},
{"transform":[{"filter":"isValid(datum.t)&&isValid(datum.s)"}],"mark":"point","encoding":{"x":{"datum":17.5},"y":{"field":"k","type":"quantitative","scale":{"domain":[0.483,5.828],"reverse":true,"nice":false,"zero":false},"axis":null},"color":{"field":"s","type":"nominal","legend":null},"shape":{"field":"s","type":"nominal","legend":null}}}]},
{"transform":[{"filter":"datum.p==2006"}],"width":64,"height":31,"resolve":{"scale":{"y":"independent"}},"layer":[
{"transform":[{"filter":"isValid(datum.x)"}],"mark":"point","encoding":{"x":{"field":"x","type":"quantitative","scale":{"domain":[0,63],"nice":false},"axis":{"values":[20,40,60],"title":null,"labelOverlap":false}},"y":{"field":"y","type":"quantitative","scale":{"domain":[0,103],"nice":false},"axis":{"values":[0,50,100],"title":null}},"color":{"field":"s","type":"nominal","scale":{"domain":[1,2],"range":["#f0772e","#3b78f2"]},"legend":null},"shape":{"field":"s","type":"nominal","scale":{"domain":[1,2],"range":["cross","square"]},"legend":null},"order":{"field":"s","sort":"descending"}}},
{"transform":[{"filter":"isValid(datum.t)"}],"mark":"text","encoding":{"x":{"datum":10},"y":{"field":"k","type":"quantitative","scale":{"domain":[0.483,5.828],"reverse":true,"nice":false,"zero":false},"axis":null},"text":{"field":"t"}}},
{"transform":[{"filter":"isValid(datum.t)&&isValid(datum.s)"}],"mark":"point","encoding":{"x":{"datum":17.5},"y":{"field":"k","type":"quantitative","scale":{"domain":[0.483,5.828],"reverse":true,"nice":false,"zero":false},"axis":null},"color":{"field":"s","type":"nominal","legend":null},"shape":{"field":"s","type":"nominal","legend":null}}}]},
{"transform":[{"filter":"datum.p==2007"}],"width":64,"height":31,"resolve":{"scale":{"y":"independent"}},"layer":[
{"transform":[{"filter":"isValid(datum.x)"}],"mark":"point","encoding":{"x":{"field":"x","type":"quantitative","scale":{"domain":[0,63],"nice":false},"axis":{"values":[20,40,60],"title":null,"labelOverlap":false}},"y":{"field":"y","type":"quantitative","scale":{"domain":[0,103],"nice":false},"axis":{"values":[0,50,100],"title":null}},"color":{"field":"s","type":"nominal","scale":{"domain":[1,2],"range":["#f0772e","#3b78f2"]},"legend":null},"shape":{"field":"s","type":"nominal","scale":{"domain":[1,2],"range":["cross","square"]},"legend":null},"order":{"field":"s","sort":"descending"}}},
{"transform":[{"filter":"isValid(datum.t)"}],"mark":"text","encoding":{"x":{"datum":10},"y":{"field":"k","type":"quantitative","scale":{"domain":[0.483,5.828],"reverse":true,"nice":false,"zero":false},"axis":null},"text":{"field":"t"}}},
{"transform":[{"filter":"isValid(datum.t)&&isValid(datum.s)"}],"mark":"point","encoding":{"x":{"datum":17.5},"y":{"field":"k","type":"quantitative","scale":{"domain":[0.483,5.828],"reverse":true,"nice":false,"zero":false},"axis":null},"color":{"field":"s","type":"nominal","legend":null},"shape":{"field":"s","type":"nominal","legend":null}}}]},
{"transform":[{"filter":"datum.p==2008"}],"width":64,"height":31,"resolve":{"scale":{"y":"independent"}},"layer":[
{"transform":[{"filter":"isValid(datum.x)"}],"mark":"point","encoding":{"x":{"field":"x","type":"quantitative","scale":{"domain":[0,63],"nice":false},"axis":{"values":[20,40,60],"title":null,"labelOverlap":false}},"y":{"field":"y","type":"quantitative","scale":{"domain":[0,103],"nice":false},"axis":{"values":[0,50,100],"title":null}},"color":{"field":"s","type":"nominal","scale":{"domain":[1,2],"range":["#f0772e","#3b78f2"]},"legend":null},"shape":{"field":"s","type":"nominal","scale":{"domain":[1,2],"range":["cross","square"]},"legend":null},"order":{"field":"s","sort":"descending"}}},
{"transform":[{"filter":"isValid(datum.t)"}],"mark":"text","encoding":{"x":{"datum":10},"y":{"field":"k","type":"quantitative","scale":{"domain":[0.483,5.828],"reverse":true,"nice":false,"zero":false},"axis":null},"text":{"field":"t"}}},
{"transform":[{"filter":"isValid(datum.t)&&isValid(datum.s)"}],"mark":"point","encoding":{"x":{"datum":17.5},"y":{"field":"k","type":"quantitative","scale":{"domain":[0.483,5.828],"reverse":true,"nice":false,"zero":false},"axis":null},"color":{"field":"s","type":"nominal","legend":null},"shape":{"field":"s","type":"nominal","legend":null}}}]},
{"transform":[{"filter":"datum.p==2009"}],"width":64,"height":31,"resolve":{"scale":{"y":"independent"}},"layer":[
{"transform":[{"filter":"isValid(datum.x)"}],"mark":"point","encoding":{"x":{"field":"x","type":"quantitative","scale":{"domain":[0,63],"nice":false},"axis":{"values":[20,40,60],"title":null,"labelOverlap":false}},"y":{"field":"y","type":"quantitative","scale":{"domain":[0,103],"nice":false},"axis":{"values":[0,50,100],"title":null}},"color":{"field":"s","type":"nominal","scale":{"domain":[1,2],"range":["#f0772e","#3b78f2"]},"legend":null},"shape":{"field":"s","type":"nominal","scale":{"domain":[1,2],"range":["cross","square"]},"legend":null},"order":{"field":"s","sort":"descending"}}},
{"transform":[{"filter":"isValid(datum.t)"}],"mark":"text","encoding":{"x":{"datum":10},"y":{"field":"k","type":"quantitative","scale":{"domain":[0.483,5.828],"reverse":true,"nice":false,"zero":false},"axis":null},"text":{"field":"t"}}},
{"transform":[{"filter":"isValid(datum.t)&&isValid(datum.s)"}],"mark":"point","encoding":{"x":{"datum":17.5},"y":{"field":"k","type":"quantitative","scale":{"domain":[0.483,5.828],"reverse":true,"nice":false,"zero":false},"axis":null},"color":{"field":"s","type":"nominal","legend":null},"shape":{"field":"s","type":"nominal","legend":null}}}]},
{"transform":[{"filter":"datum.p==2010"}],"width":64,"height":31,"resolve":{"scale":{"y":"independent"}},"layer":[
{"transform":[{"filter":"isValid(datum.x)"}],"mark":"point","encoding":{"x":{"field":"x","type":"quantitative","scale":{"domain":[0,63],"nice":false},"axis":{"values":[20,40,60],"title":null,"labelOverlap":false}},"y":{"field":"y","type":"quantitative","scale":{"domain":[0,103],"nice":false},"axis":{"values":[0,50,100],"title":null}},"color":{"field":"s","type":"nominal","scale":{"domain":[1,2],"range":["#f0772e","#3b78f2"]},"legend":null},"shape":{"field":"s","type":"nominal","scale":{"domain":[1,2],"range":["cross","square"]},"legend":null},"order":{"field":"s","sort":"descending"}}},
{"transform":[{"filter":"isValid(datum.t)"}],"mark":"text","encoding":{"x":{"datum":10},"y":{"field":"k","type":"quantitative","scale":{"domain":[0.483,5.828],"reverse":true,"nice":false,"zero":false},"axis":null},"text":{"field":"t"}}},
{"transform":[{"filter":"isValid(datum.t)&&isValid(datum.s)"}],"mark":"point","encoding":{"x":{"datum":17.5},"y":{"field":"k","type":"quantitative","scale":{"domain":[0.483,5.828],"reverse":true,"nice":false,"zero":false},"axis":null},"color":{"field":"s","type":"nominal","legend":null},"shape":{"field":"s","type":"nominal","legend":null}}}]},
{"transform":[{"filter":"datum.p==2011"}],"width":64,"height":31,"resolve":{"scale":{"y":"independent"}},"layer":[
{"transform":[{"filter":"isValid(datum.x)"}],"mark":"point","encoding":{"x":{"field":"x","type":"quantitative","scale":{"domain":[0,63],"nice":false},"axis":{"values":[20,40,60],"title":null,"labelOverlap":false}},"y":{"field":"y","type":"quantitative","scale":{"domain":[0,103],"nice":false},"axis":{"values":[0,50,100],"title":null}},"color":{"field":"s","type":"nominal","scale":{"domain":[1,2],"range":["#f0772e","#3b78f2"]},"legend":null},"shape":{"field":"s","type":"nominal","scale":{"domain":[1,2],"range":["cross","square"]},"legend":null},"order":{"field":"s","sort":"descending"}}},
{"transform":[{"filter":"isValid(datum.t)"}],"mark":"text","encoding":{"x":{"datum":10},"y":{"field":"k","type":"quantitative","scale":{"domain":[0.483,5.828],"reverse":true,"nice":false,"zero":false},"axis":null},"text":{"field":"t"}}},
{"transform":[{"filter":"isValid(datum.t)&&isValid(datum.s)"}],"mark":"point","encoding":{"x":{"datum":17.5},"y":{"field":"k","type":"quantitative","scale":{"domain":[0.483,5.828],"reverse":true,"nice":false,"zero":false},"axis":null},"color":{"field":"s","type":"nominal","legend":null},"shape":{"field":"s","type":"nominal","legend":null}}}]},
{"transform":[{"filter":"datum.p==2012"}],"width":64,"height":31,"resolve":{"scale":{"y":"independent"}},"layer":[
{"transform":[{"filter":"isValid(datum.x)"}],"mark":"point","encoding":{"x":{"field":"x","type":"quantitative","scale":{"domain":[0,63],"nice":false},"axis":{"values":[20,40,60],"title":null,"labelOverlap":false}},"y":{"field":"y","type":"quantitative","scale":{"domain":[0,103],"nice":false},"axis":{"values":[0,50,100],"title":null}},"color":{"field":"s","type":"nominal","scale":{"domain":[1,2],"range":["#f0772e","#3b78f2"]},"legend":null},"shape":{"field":"s","type":"nominal","scale":{"domain":[1,2],"range":["cross","square"]},"legend":null},"order":{"field":"s","sort":"descending"}}},
{"transform":[{"filter":"isValid(datum.t)"}],"mark":"text","encoding":{"x":{"datum":10},"y":{"field":"k","type":"quantitative","scale":{"domain":[0.483,5.828],"reverse":true,"nice":false,"zero":false},"axis":null},"text":{"field":"t"}}},
{"transform":[{"filter":"isValid(datum.t)&&isValid(datum.s)"}],"mark":"point","encoding":{"x":{"datum":17.5},"y":{"field":"k","type":"quantitative","scale":{"domain":[0.483,5.828],"reverse":true,"nice":false,"zero":false},"axis":null},"color":{"field":"s","type":"nominal","legend":null},"shape":{"field":"s","type":"nominal","legend":null}}}]},
{"transform":[{"filter":"datum.p==2013"}],"width":64,"height":31,"resolve":{"scale":{"y":"independent"}},"layer":[
{"transform":[{"filter":"isValid(datum.x)"}],"mark":"point","encoding":{"x":{"field":"x","type":"quantitative","scale":{"domain":[0,63],"nice":false},"axis":{"values":[20,40,60],"title":null,"labelOverlap":false}},"y":{"field":"y","type":"quantitative","scale":{"domain":[0,103],"nice":false},"axis":{"values":[0,50,100],"title":null}},"color":{"field":"s","type":"nominal","scale":{"domain":[1,2],"range":["#f0772e","#3b78f2"]},"legend":null},"shape":{"field":"s","type":"nominal","scale":{"domain":[1,2],"range":["cross","square"]},"legend":null},"order":{"field":"s","sort":"descending"}}},
{"transform":[{"filter":"isValid(datum.t)"}],"mark":"text","encoding":{"x":{"datum":10},"y":{"field":"k","type":"quantitative","scale":{"domain":[0.483,5.828],"reverse":true,"nice":false,"zero":false},"axis":null},"text":{"field":"t"}}},
{"transform":[{"filter":"isValid(datum.t)&&isValid(datum.s)"}],"mark":"point","encoding":{"x":{"datum":17.5},"y":{"field":"k","type":"quantitative","scale":{"domain":[0.483,5.828],"reverse":true,"nice":false,"zero":false},"axis":null},"color":{"field":"s","type":"nominal","legend":null},"shape":{"field":"s","type":"nominal","legend":null}}}]},
{"transform":[{"filter":"datum.p==2014"}],"width":64,"height":31,"resolve":{"scale":{"y":"independent"}},"layer":[
{"transform":[{"filter":"isValid(datum.x)"}],"mark":"point","encoding":{"x":{"field":"x","type":"quantitative","scale":{"domain":[0,63],"nice":false},"axis":{"values":[20,40,60],"title":null,"labelOverlap":false}},"y":{"field":"y","type":"quantitative","scale":{"domain":[0,103],"nice":false},"axis":{"values":[0,50,100],"title":null}},"color":{"field":"s","type":"nominal","scale":{"domain":[1,2],"range":["#f0772e","#3b78f2"]},"legend":null},"shape":{"field":"s","type":"nominal","scale":{"domain":[1,2],"range":["cross","square"]},"legend":null},"order":{"field":"s","sort":"descending"}}},
{"transform":[{"filter":"isValid(datum.t)"}],"mark":"text","encoding":{"x":{"datum":10},"y":{"field":"k","type":"quantitative","scale":{"domain":[0.483,5.828],"reverse":true,"nice":false,"zero":false},"axis":null},"text":{"field":"t"}}},
{"transform":[{"filter":"isValid(datum.t)&&isValid(datum.s)"}],"mark":"point","encoding":{"x":{"datum":17.5},"y":{"field":"k","type":"quantitative","scale":{"domain":[0.483,5.828],"reverse":true,"nice":false,"zero":false},"axis":null},"color":{"field":"s","type":"nominal","legend":null},"shape":{"field":"s","type":"nominal","legend":null}}}]},
{"transform":[{"filter":"datum.p==2015"}],"width":64,"height":31,"resolve":{"scale":{"y":"independent"}},"layer":[
{"transform":[{"filter":"isValid(datum.x)"}],"mark":"point","encoding":{"x":{"field":"x","type":"quantitative","scale":{"domain":[0,63],"nice":false},"axis":{"values":[20,40,60],"title":null,"labelOverlap":false}},"y":{"field":"y","type":"quantitative","scale":{"domain":[0,103],"nice":false},"axis":{"values":[0,50,100],"title":null}},"color":{"field":"s","type":"nominal","scale":{"domain":[1,2],"range":["#f0772e","#3b78f2"]},"legend":null},"shape":{"field":"s","type":"nominal","scale":{"domain":[1,2],"range":["cross","square"]},"legend":null},"order":{"field":"s","sort":"descending"}}},
{"transform":[{"filter":"isValid(datum.t)"}],"mark":"text","encoding":{"x":{"datum":10},"y":{"field":"k","type":"quantitative","scale":{"domain":[0.483,5.828],"reverse":true,"nice":false,"zero":false},"axis":null},"text":{"field":"t"}}},
{"transform":[{"filter":"isValid(datum.t)&&isValid(datum.s)"}],"mark":"point","encoding":{"x":{"datum":17.5},"y":{"field":"k","type":"quantitative","scale":{"domain":[0.483,5.828],"reverse":true,"nice":false,"zero":false},"axis":null},"color":{"field":"s","type":"nominal","legend":null},"shape":{"field":"s","type":"nominal","legend":null}}}]},
{"transform":[{"filter":"datum.p==2016"}],"width":64,"height":31,"resolve":{"scale":{"y":"independent"}},"layer":[
{"transform":[{"filter":"isValid(datum.x)"}],"mark":"point","encoding":{"x":{"field":"x","type":"quantitative","scale":{"domain":[0,63],"nice":false},"axis":{"values":[20,40,60],"title":null,"labelOverlap":false}},"y":{"field":"y","type":"quantitative","scale":{"domain":[0,103],"nice":false},"axis":{"values":[0,50,100],"title":null}},"color":{"field":"s","type":"nominal","scale":{"domain":[1,2],"range":["#f0772e","#3b78f2"]},"legend":null},"shape":{"field":"s","type":"nominal","scale":{"domain":[1,2],"range":["cross","square"]},"legend":null},"order":{"field":"s","sort":"descending"}}},
{"transform":[{"filter":"isValid(datum.t)"}],"mark":"text","encoding":{"x":{"datum":10},"y":{"field":"k","type":"quantitative","scale":{"domain":[0.483,5.828],"reverse":true,"nice":false,"zero":false},"axis":null},"text":{"field":"t"}}},
{"transform":[{"filter":"isValid(datum.t)&&isValid(datum.s)"}],"mark":"point","encoding":{"x":{"datum":17.5},"y":{"field":"k","type":"quantitative","scale":{"domain":[0.483,5.828],"reverse":true,"nice":false,"zero":false},"axis":null},"color":{"field":"s","type":"nominal","legend":null},"shape":{"field":"s","type":"nominal","legend":null}}}]},
{"transform":[{"filter":"datum.p==2017"}],"width":64,"height":31,"resolve":{"scale":{"y":"independent"}},"layer":[
{"transform":[{"filter":"isValid(datum.x)"}],"mark":"point","encoding":{"x":{"field":"x","type":"quantitative","scale":{"domain":[0,63],"nice":false},"axis":{"values":[20,40,60],"title":null,"labelOverlap":false}},"y":{"field":"y","type":"quantitative","scale":{"domain":[0,103],"nice":false},"axis":{"values":[0,50,100],"title":null}},"color":{"field":"s","type":"nominal","scale":{"domain":[1,2],"range":["#f0772e","#3b78f2"]},"legend":null},"shape":{"field":"s","type":"nominal","scale":{"domain":[1,2],"range":["cross","square"]},"legend":null},"order":{"field":"s","sort":"descending"}}},
{"transform":[{"filter":"isValid(datum.t)"}],"mark":"text","encoding":{"x":{"datum":10},"y":{"field":"k","type":"quantitative","scale":{"domain":[0.483,5.828],"reverse":true,"nice":false,"zero":false},"axis":null},"text":{"field":"t"}}},
{"transform":[{"filter":"isValid(datum.t)&&isValid(datum.s)"}],"mark":"point","encoding":{"x":{"datum":17.5},"y":{"field":"k","type":"quantitative","scale":{"domain":[0.483,5.828],"reverse":true,"nice":false,"zero":false},"axis":null},"color":{"field":"s","type":"nominal","legend":null},"shape":{"field":"s","type":"nominal","legend":null}}}]},
{"transform":[{"filter":"datum.p==2018"}],"width":64,"height":31,"resolve":{"scale":{"y":"independent"}},"layer":[
{"transform":[{"filter":"isValid(datum.x)"}],"mark":"point","encoding":{"x":{"field":"x","type":"quantitative","scale":{"domain":[0,63],"nice":false},"axis":{"values":[20,40,60],"title":null,"labelOverlap":false}},"y":{"field":"y","type":"quantitative","scale":{"domain":[0,103],"nice":false},"axis":{"values":[0,50,100],"title":null}},"color":{"field":"s","type":"nominal","scale":{"domain":[1,2],"range":["#f0772e","#3b78f2"]},"legend":null},"shape":{"field":"s","type":"nominal","scale":{"domain":[1,2],"range":["cross","square"]},"legend":null},"order":{"field":"s","sort":"descending"}}},
{"transform":[{"filter":"isValid(datum.t)"}],"mark":"text","encoding":{"x":{"datum":10},"y":{"field":"k","type":"quantitative","scale":{"domain":[0.483,5.828],"reverse":true,"nice":false,"zero":false},"axis":null},"text":{"field":"t"}}},
{"transform":[{"filter":"isValid(datum.t)&&isValid(datum.s)"}],"mark":"point","encoding":{"x":{"datum":17.5},"y":{"field":"k","type":"quantitative","scale":{"domain":[0.483,5.828],"reverse":true,"nice":false,"zero":false},"axis":null},"color":{"field":"s","type":"nominal","legend":null},"shape":{"field":"s","type":"nominal","legend":null}}}]}
]}]
}
